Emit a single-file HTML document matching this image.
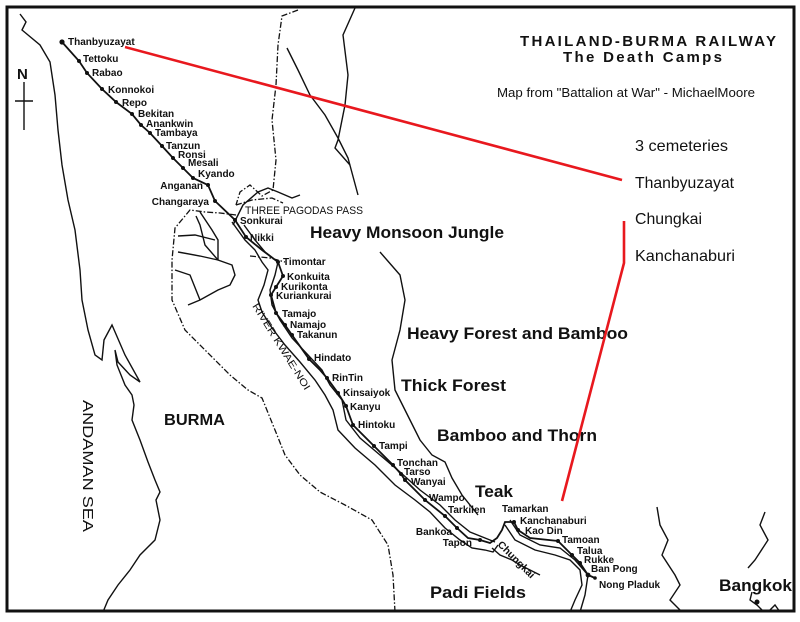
<!DOCTYPE html>
<html><head><meta charset="utf-8"><style>
html,body{margin:0;padding:0;background:#fff}
svg{display:block}
.s{font-family:"Liberation Sans",sans-serif;font-weight:bold;font-size:10px;fill:#111}
.b{font-family:"Liberation Sans",sans-serif;font-weight:bold;fill:#111}
.n{font-family:"Liberation Sans",sans-serif;fill:#111}
.l{fill:none;stroke:#111;stroke-width:1.4}
.d{fill:none;stroke:#111;stroke-width:1.3;stroke-dasharray:6 2 1.5 2}
</style></head><body>
<svg width="800" height="622" viewBox="0 0 800 622" xmlns="http://www.w3.org/2000/svg">
<rect x="0" y="0" width="800" height="622" fill="#fff"/>
<rect x="7" y="7" width="787" height="604" fill="none" stroke="#111" stroke-width="3"/>

<path class="l" d="M20,14 L26,22 L22,30 L40,45 L50,62 L55,95 L58,130 L62,165 L68,200 L75,230 L80,270 L82,300 L88,330 L95,355 L102,360 L104,340 L112,325 L125,355 L140,382 L130,375 L118,362 L115,350 L117,365 L125,385 L132,395 L134,405 L132,420 L140,440 L148,462 L155,480 L160,492 L156,500 L160,520 L155,540 L140,555 L130,570 L118,585 L108,600 L103,612"/>

<path class="d" d="M298,10 L282,16 L278,45 L276,85 L272,120 L276,160 L273,190 L262,196 L250,185 L240,192 L236,205"/>
<path class="d" d="M236,205 L252,200 L272,198 L283,203"/>
<path class="d" d="M236,215 L220,213 L205,212 L190,210 L175,228 L172,260 L172,300 L185,330 L205,350 L230,375 L248,390 L262,398 L275,430 L285,455 L300,475 L320,492 L345,505 L372,520 L388,545 L393,575 L395,612"/>
<path class="d" d="M250,256 L270,258 L285,262"/>

<path class="l" d="M287,48 L298,70 L310,95 L325,115 L338,138 L348,158 L358,195"/>
<path class="l" d="M355,8 L343,35 L348,75 L345,105 L338,140 L335,148 L350,165"/>
<path class="l" d="M233,225 L243,205 L258,192 L268,188 L278,192 L292,198 L300,195"/>
<path class="l" d="M200,212 L212,230 L218,240 L218,260 L232,265 L235,275 L230,285 L218,290 L200,300 L188,305"/>
<path class="l" d="M196,216 L200,225 L205,245 L218,260"/>
<path class="l" d="M178,236 L195,235 L215,240"/>
<path class="l" d="M178,252 L200,256 L218,260"/>
<path class="l" d="M175,270 L190,275 L200,300"/>

<path class="l" d="M232,222 L245,240 L255,250 L262,262 L268,270 L264,285 L258,300 L262,312 L272,328 L285,345 L300,362 L315,380 L325,395 L333,410 L338,430 L355,448 L375,465 L395,485 L415,500 L430,512 L445,528 L460,540 L472,548 L485,550 L493,552 L498,545"/>
<path class="l" d="M244,225 L255,240 L265,252 L278,262 L275,275 L270,290 L272,305 L280,320 L292,338 L308,355 L322,370 L330,385 L342,400 L346,420 L360,438 L380,455 L400,472 L420,490 L440,505 L455,520 L470,532 L485,538 L495,542"/>
<path class="l" d="M380,252 L400,275 L405,300 L400,330 L392,360 L395,390 L405,410 L410,420 L420,440 L432,455 L445,462 L452,478 L462,495 L478,515"/>
<path class="l" d="M492,548 L500,555 L512,560 L520,565 L530,570 L540,575"/>
<path class="l" d="M505,525 L515,540 L535,550 L555,555 L570,560 L580,570 L582,585 L575,600 L570,612"/>
<path class="l" d="M510,520 L520,535 L540,545 L560,548 L575,560 L588,575 L585,595 L580,612"/>
<path class="l" d="M657,507 L660,525 L668,540 L662,555 L675,575 L680,585 L670,600 L682,612"/>
<path class="l" d="M765,512 L760,525 L768,540 L755,560 L748,568"/>
<path class="l" d="M752,592 L750,600 L757,605 L764,612 M768,612 L775,605 L780,612"/>
<circle cx="757" cy="602" r="2.5" fill="#111"/>

<path fill="none" stroke="#111" stroke-width="1.8" d="M62,42 L79,61 L87,73 L102,89 L116,102 L132,114 L141,125 L150,133 L162,146 L173,158 L183,168 L193,178 L208,185 L215,201 L235,220 L246,237 L262,250 L278,262 L283,276 L276,287 L271,295 L276,313 L285,325 L292,335 L309,359 L320,370 L327,378 L338,393 L346,406 L353,425 L374,446 L393,465 L401,474 L405,480 L425,500 L445,516 L457,528 L468,538 L480,540 L490,543 L497,538 L502,530 L505,522 L514,522 L518,530 L530,538 L558,541 L572,555 L580,563 L588,575 L595,578"/>
<g fill="#111">
<circle cx="62" cy="42" r="2.6"/><circle cx="79" cy="61" r="2"/><circle cx="87" cy="73" r="2"/><circle cx="102" cy="89" r="2"/><circle cx="116" cy="102" r="2"/><circle cx="132" cy="114" r="2"/><circle cx="141" cy="125" r="2"/><circle cx="150" cy="133" r="2"/><circle cx="162" cy="146" r="2"/><circle cx="173" cy="158" r="2"/><circle cx="183" cy="168" r="2"/><circle cx="193" cy="178" r="2"/><circle cx="208" cy="185" r="2"/><circle cx="215" cy="201" r="2"/><circle cx="235" cy="220" r="2"/><circle cx="246" cy="237" r="2"/><circle cx="278" cy="262" r="2"/><circle cx="283" cy="276" r="2"/><circle cx="276" cy="287" r="2"/><circle cx="271" cy="295" r="2"/><circle cx="276" cy="313" r="2"/><circle cx="285" cy="325" r="2"/><circle cx="292" cy="335" r="2"/><circle cx="309" cy="359" r="2"/><circle cx="327" cy="378" r="2"/><circle cx="338" cy="393" r="2"/><circle cx="346" cy="406" r="2"/><circle cx="353" cy="425" r="2"/><circle cx="374" cy="446" r="2"/><circle cx="393" cy="465" r="2"/><circle cx="401" cy="474" r="2"/><circle cx="405" cy="480" r="2"/><circle cx="425" cy="500" r="2"/><circle cx="445" cy="516" r="2"/><circle cx="457" cy="528" r="2"/><circle cx="480" cy="540" r="2"/><circle cx="514" cy="522" r="2"/><circle cx="518" cy="530" r="2"/><circle cx="558" cy="541" r="2"/><circle cx="572" cy="555" r="2"/><circle cx="580" cy="563" r="2"/><circle cx="588" cy="575" r="2.4"/><circle cx="595" cy="578" r="1.8"/>
</g>

<g class="s">
<text x="68" y="45">Thanbyuzayat</text>
<text x="83" y="62">Tettoku</text>
<text x="92" y="76">Rabao</text>
<text x="108" y="93">Konnokoi</text>
<text x="122" y="106">Repo</text>
<text x="138" y="117">Bekitan</text>
<text x="146" y="127">Anankwin</text>
<text x="155" y="136">Tambaya</text>
<text x="166" y="149">Tanzun</text>
<text x="178" y="158">Ronsi</text>
<text x="188" y="166">Mesali</text>
<text x="198" y="177">Kyando</text>
<text x="203" y="189" text-anchor="end">Anganan</text>
<text x="209" y="205" text-anchor="end">Changaraya</text>
<text x="240" y="224">Sonkurai</text>
<text x="250" y="241">Nikki</text>
<text x="283" y="265">Timontar</text>
<text x="287" y="280">Konkuita</text>
<text x="281" y="290">Kurikonta</text>
<text x="276" y="299">Kuriankurai</text>
<text x="282" y="317">Tamajo</text>
<text x="290" y="328">Namajo</text>
<text x="297" y="338">Takanun</text>
<text x="314" y="361">Hindato</text>
<text x="332" y="381">RinTin</text>
<text x="343" y="396">Kinsaiyok</text>
<text x="350" y="410">Kanyu</text>
<text x="358" y="428">Hintoku</text>
<text x="379" y="449">Tampi</text>
<text x="397" y="466">Tonchan</text>
<text x="404" y="475">Tarso</text>
<text x="411" y="485">Wanyai</text>
<text x="429" y="501">Wampo</text>
<text x="448" y="513">Tarkilen</text>
<text x="452" y="535" text-anchor="end">Bankoa</text>
<text x="472" y="546" text-anchor="end">Tapon</text>
<text x="502" y="512">Tamarkan</text>
<text x="520" y="524">Kanchanaburi</text>
<text x="525" y="534">Kao Din</text>
<text x="562" y="543">Tamoan</text>
<text x="577" y="554">Talua</text>
<text x="584" y="563">Rukke</text>
<text x="591" y="572">Ban Pong</text>
<text x="599" y="588">Nong Pladuk</text>
</g>
<text class="n" x="245" y="214" font-size="11" textLength="118" lengthAdjust="spacingAndGlyphs">THREE PAGODAS PASS</text>
<text class="n" font-size="10" transform="translate(252,306) rotate(58)" textLength="100" lengthAdjust="spacingAndGlyphs">RIVER KWAE-NOI</text>
<text class="n" font-size="10" font-weight="bold" transform="translate(497,545) rotate(45)" textLength="48" lengthAdjust="spacingAndGlyphs">Chungkai</text>

<g class="b">
<text x="310" y="238" font-size="17" textLength="194" lengthAdjust="spacingAndGlyphs">Heavy Monsoon Jungle</text>
<text x="407" y="339" font-size="17" textLength="221" lengthAdjust="spacingAndGlyphs">Heavy Forest and Bamboo</text>
<text x="401" y="391" font-size="17" textLength="105" lengthAdjust="spacingAndGlyphs">Thick Forest</text>
<text x="437" y="441" font-size="17" textLength="160" lengthAdjust="spacingAndGlyphs">Bamboo and Thorn</text>
<text x="475" y="497" font-size="17" textLength="38" lengthAdjust="spacingAndGlyphs">Teak</text>
<text x="430" y="598" font-size="17" textLength="96" lengthAdjust="spacingAndGlyphs">Padi Fields</text>
<text x="164" y="425" font-size="16" textLength="61" lengthAdjust="spacingAndGlyphs">BURMA</text>
<text x="719" y="591" font-size="17" textLength="73" lengthAdjust="spacingAndGlyphs">Bangkok</text>
<text transform="translate(83,400) rotate(90)" font-size="15" font-weight="normal" textLength="132" lengthAdjust="spacingAndGlyphs">ANDAMAN SEA</text>
<text x="17" y="79" font-size="15">N</text>
</g>
<path class="l" d="M24,82 L24,130 M15,101 L33,101"/>

<text class="b" x="520" y="46" font-size="15" textLength="256">THAILAND-BURMA RAILWAY</text>
<text class="b" x="563" y="62" font-size="15" textLength="159">The Death Camps</text>
<text class="n" x="497" y="97" font-size="13" textLength="258" lengthAdjust="spacingAndGlyphs">Map from "Battalion at War" - MichaelMoore</text>
<g class="n" font-size="16">
<text x="635" y="151" textLength="93" lengthAdjust="spacingAndGlyphs">3 cemeteries</text>
<text x="635" y="188" textLength="99" lengthAdjust="spacingAndGlyphs">Thanbyuzayat</text>
<text x="635" y="224" textLength="67" lengthAdjust="spacingAndGlyphs">Chungkai</text>
<text x="635" y="261" textLength="100" lengthAdjust="spacingAndGlyphs">Kanchanaburi</text>
</g>

<path fill="none" stroke="#e8181e" stroke-width="2.6" d="M125,47 L622,180"/>
<path fill="none" stroke="#e8181e" stroke-width="2.6" d="M624,221 L624,263 L562,501"/>
</svg>
</body></html>
